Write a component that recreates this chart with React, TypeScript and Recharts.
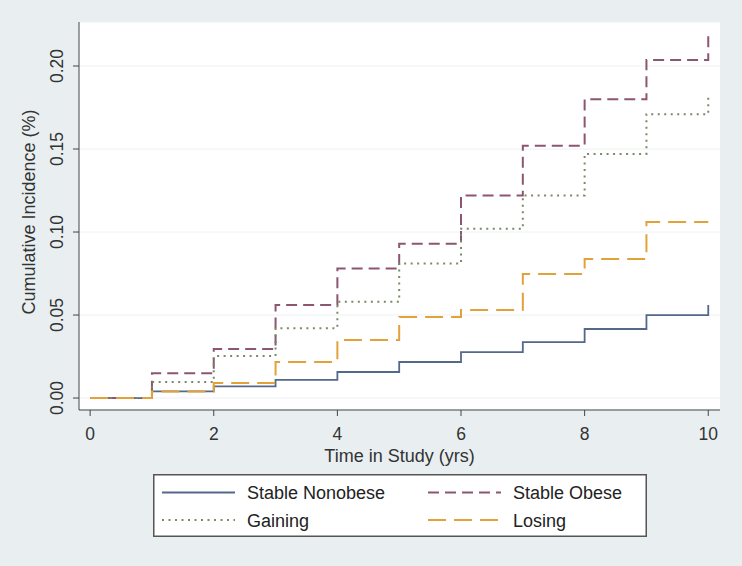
import React from 'react';
import { LineChart, Line, XAxis, YAxis, CartesianGrid } from 'recharts';

// years since baseline (step changes happen at each integer year)
const years = [0, 1, 2, 3, 4, 5, 6, 7, 8, 9, 10];

const stableNonobese = [0, 0.004, 0.007, 0.011, 0.0157, 0.0217, 0.0277, 0.0337, 0.0416, 0.05, 0.056];
const stableObese = [0, 0.015, 0.0295, 0.056, 0.078, 0.093, 0.122, 0.152, 0.18, 0.2036, 0.219];
const gaining = [0, 0.0096, 0.0253, 0.042, 0.058, 0.081, 0.102, 0.122, 0.147, 0.171, 0.181];
const losing = [0, 0.004, 0.009, 0.0217, 0.035, 0.0488, 0.053, 0.0747, 0.0837, 0.106, 0.106];

const xTicks = [0, 2, 4, 6, 8, 10];
const yTicks = [0, 0.05, 0.1, 0.15, 0.2];

const FONT = '"Liberation Sans", Arial, Helvetica, sans-serif';

const SERIES = [
  { key: 'nonobese', name: 'Stable Nonobese', color: '#53688a', dash: undefined, width: 1.8 },
  { key: 'obese', name: 'Stable Obese', color: '#8c5670', dash: '11 6', width: 2 },
  { key: 'gaining', name: 'Gaining', color: '#7a8a68', dash: '2 4.5', width: 2 },
  { key: 'losing', name: 'Losing', color: '#e2a23a', dash: '18 8', width: 2 },
];

const data = years.map((t, i) => ({
  t,
  nonobese: stableNonobese[i],
  obese: stableObese[i],
  gaining: gaining[i],
  losing: losing[i],
}));

const YTick = ({ x, y, payload }: any) => (
  <text
    x={x - 10}
    y={y}
    transform={`rotate(-90 ${x - 10} ${y})`}
    textAnchor="middle"
    fontSize={17.5}
    fontFamily={FONT}
    fill="#333"
  >
    {payload.value.toFixed(2)}
  </text>
);

const XTick = ({ x, y, payload }: any) => (
  <text x={x} y={y + 24} textAnchor="middle" fontSize={17.5} fontFamily={FONT} fill="#333">
    {payload.value}
  </text>
);

const YTitle = ({ viewBox }: any) => {
  const cx = viewBox.x + 35;
  const cy = viewBox.y + viewBox.height / 2 - 4;
  return (
    <text x={cx} y={cy} transform={`rotate(-90 ${cx} ${cy})`} textAnchor="middle" fontSize={18} fontFamily={FONT} fill="#333">
      Cumulative Incidence (%)
    </text>
  );
};

const XTitle = ({ viewBox }: any) => (
  <text
    x={viewBox.x + viewBox.width / 2}
    y={viewBox.y + 52}
    textAnchor="middle"
    fontSize={18}
    fontFamily={FONT}
    fill="#333"
  >
    Time in Study (yrs)
  </text>
);

// legend order follows the original: two columns, two rows
const legendSlots = [
  { s: SERIES[0], col: 0, row: 0 },
  { s: SERIES[1], col: 1, row: 0 },
  { s: SERIES[2], col: 0, row: 1 },
  { s: SERIES[3], col: 1, row: 1 },
];

function KeyBox() {
  return (
    <svg
      width={494}
      height={63}
      style={{ position: 'absolute', left: 153, top: 474 }}
    >
      <rect x={0.75} y={0.75} width={492.5} height={61.5} fill="#fff" stroke="#555" strokeWidth={1.5} />
      {legendSlots.map(({ s, col, row }) => {
        const x0 = col === 0 ? 9 : 275;
        const ly = row === 0 ? 18.5 : 46;
        return (
          <g key={s.key}>
            <line x1={x0} x2={x0 + 73} y1={ly} y2={ly} stroke={s.color} strokeWidth={s.width} strokeDasharray={s.dash} />
            <text x={x0 + 85} y={ly + 6.5} fontSize={18} fontFamily={FONT} fill="#222">
              {s.name}
            </text>
          </g>
        );
      })}
    </svg>
  );
}

export default function App() {
  return (
    <div style={{ position: 'absolute', left: 0, top: 0, width: 742, height: 566, background: '#e9eff1' }}>
      <LineChart width={742} height={566} data={data} margin={{ top: 22, right: 22, bottom: 96, left: 0 }}>
        <CartesianGrid vertical={false} stroke="#edf1f2" fill="#ffffff" />
        <XAxis
          dataKey="t"
          type="number"
          domain={[-0.18, 10.19]}
          ticks={xTicks}
          allowDataOverflow
          height={60}
          stroke="#444"
          tickSize={6}
          tickMargin={0}
          tick={<XTick />}
          label={{ content: <XTitle /> }}
        />
        <YAxis
          type="number"
          domain={[-0.0072, 0.2265]}
          ticks={yTicks}
          allowDataOverflow
          width={79}
          stroke="#444"
          tickSize={6}
          tickMargin={0}
          tick={<YTick />}
          label={{ content: <YTitle /> }}
        />
        {SERIES.map((s) => (
          <Line
            key={s.key}
            dataKey={s.key}
            type="stepAfter"
            stroke={s.color}
            strokeWidth={s.width}
            strokeDasharray={s.dash}
            dot={false}
            activeDot={false}
            isAnimationActive={false}
          />
        ))}
      </LineChart>
      <KeyBox />
    </div>
  );
}
